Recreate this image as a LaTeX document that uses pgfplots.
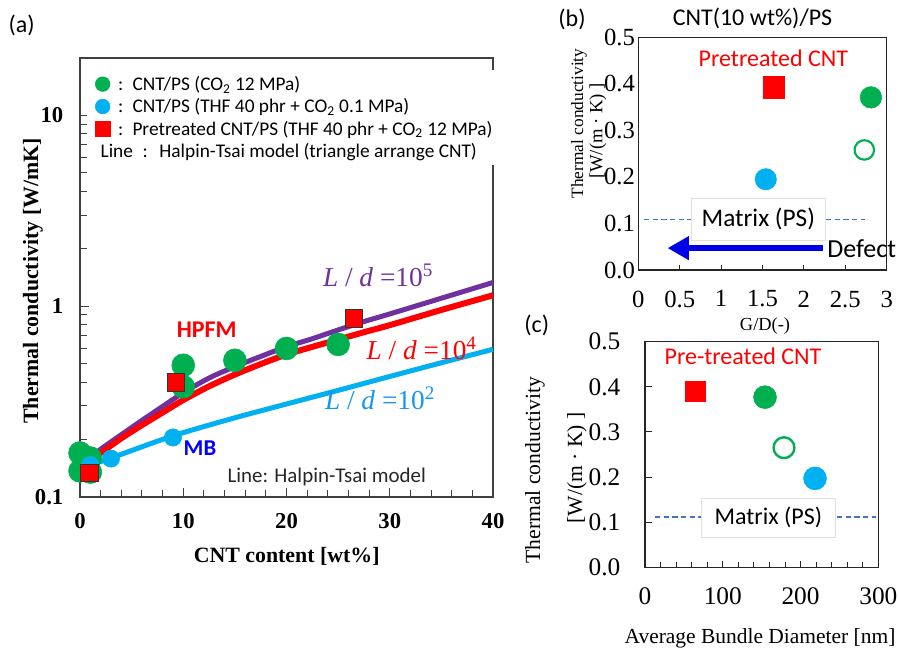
\documentclass[border=0pt]{standalone}
\usepackage{pgfplots}
\pgfplotsset{compat=1.18}
\usepackage{fontspec}
\setmainfont{Liberation Serif}
\setsansfont{Carlito}
\newfontfamily\tms{Liberation Serif}
\usetikzlibrary{arrows.meta}
\definecolor{cgreen}{HTML}{00B050}
\definecolor{cblue}{HTML}{00B0F0}
\definecolor{cpurple}{HTML}{7030A0}
\definecolor{cred}{HTML}{FF0000}
\definecolor{cmatrix}{HTML}{4472C4}
\definecolor{cldblue}{HTML}{1496F5}
\definecolor{carrow}{HTML}{0000E6}
\newcommand{\fs}[1]{\fontsize{#1}{#1}\selectfont}
\pgfplotsset{/pgf/number format/assume math mode=true}
\begin{document}
\begin{tikzpicture}[x=0.75pt,y=0.75pt]
\useasboundingbox (0,0) rectangle (898,647);

% ---------------- panel (a)
\begin{axis}[
  at={(60pt,112.5pt)}, anchor=south west,
  scale only axis, width=309.75pt, height=329.25pt,
  xmin=0, xmax=40, ymode=log, ymin=0.1, ymax=19.95,
  xtick={0,10,20,30,40},
  xticklabels={\textbf{0},\textbf{10},\textbf{20},\textbf{30},\textbf{40}},
  minor x tick num=4,
  ytick={0.1,1,10},
  yticklabels={\textbf{0.1},\textbf{1},\textbf{10}},
  xtick pos=bottom, ytick pos=left, tick align=inside,
  major tick length=7pt, minor tick length=5pt,
  tick label style={font=\tms\fs{17}},
  xticklabel style={yshift=-9pt},
  yticklabel style={xshift=-9pt},
  axis line style={black!75, line width=0.9pt},
  tick style={black!75, line width=0.7pt},
  clip=false,
  legend style={draw=none, fill=white, at={(0.017,0.9727)}, anchor=north west,
    font=\sffamily\fs{14.5}, inner xsep=3pt, inner ysep=2pt,
    nodes={inner ysep=2.35pt}},
  legend cell align=left,
]
\addplot[cpurple, line width=3.75pt, smooth, forget plot] coordinates {
(1,0.16) (2,0.178) (4,0.212) (6,0.252) (8,0.298) (10,0.352) (12.5,0.42) (15,0.482)
(17.5,0.545) (20,0.613) (22.5,0.675) (25,0.75) (27.5,0.83) (30,0.91) (35,1.1) (40,1.33)};
\addplot[cred, line width=4.5pt, smooth, forget plot] coordinates {
(1,0.155) (2,0.17) (4,0.203) (6,0.238) (8,0.277) (10,0.322) (12.5,0.38) (15,0.438)
(17.5,0.497) (20,0.558) (22.5,0.612) (25,0.668) (27.5,0.73) (30,0.795) (35,0.955) (40,1.14)};
\addplot[cblue, line width=3.75pt, smooth, forget plot] coordinates {
(1,0.147) (3,0.16) (9,0.209) (15,0.26) (20,0.307) (25,0.362) (30,0.428) (35,0.505) (40,0.594)};
\addplot[only marks, mark=*, mark size=8.6pt, cgreen, forget plot] coordinates {
(0,0.17) (0,0.137) (1,0.16) (1,0.135) (10,0.49) (10,0.378) (15,0.52) (20,0.60) (25,0.63)};
\addplot[only marks, mark=*, mark size=6.5pt, cblue, forget plot] coordinates {
(1,0.147) (3,0.159) (9,0.205)};
\addplot[only marks, mark=square*, mark size=6.5pt, mark options={fill=cred, draw=black!80, line width=0.6pt}, forget plot] coordinates {
(0.9,0.134) (9.3,0.398) (26.5,0.863)};
\addlegendimage{only marks, mark=*, mark size=5.5pt, cgreen}
\addlegendentry{\hspace{4pt}:\hspace{7pt}CNT/PS (CO\textsubscript{2} 12 MPa)}
\addlegendimage{only marks, mark=*, mark size=5.5pt, cblue}
\addlegendentry{\hspace{4pt}:\hspace{7pt}CNT/PS (THF 40 phr + CO\textsubscript{2} 0.1 MPa)}
\addlegendimage{only marks, mark=square*, mark size=5.5pt, cred}
\addlegendentry{\hspace{4pt}:\hspace{7pt}Pretreated CNT/PS (THF 40 phr + CO\textsubscript{2} 12 MPa)}
\addlegendimage{empty legend}
\addlegendentry{\hspace*{-9pt}Line\hspace{0.5em}:\hspace{0.6em}Halpin-Tsai model (triangle arrange CNT)}
\end{axis}

% ---------------- panel (b)
\begin{axis}[
  at={(478.7pt,282.75pt)}, anchor=south west,
  scale only axis, width=186.3pt, height=174.5pt,
  xmin=0, xmax=3, ymin=0, ymax=0.5,
  xtick={0,0.5,1,1.5,2,2.5,3},
  xticklabels={\textrm{0},\textrm{0.5},\textrm{1},\textrm{1.5},\textrm{2},\textrm{2.5},\textrm{3}},
  ytick={0,0.1,0.2,0.3,0.4,0.5},
  yticklabels={\textrm{0.0},\textrm{0.1},\textrm{0.2},\textrm{0.3},\textrm{0.4},\textrm{0.5}},
  xtick pos=bottom, ytick pos=left, tick align=inside,
  major tick length=4pt,
  ytick style={draw=none},
  tick label style={font=\tms\fs{18.5}},
  xticklabel style={yshift=-12pt},
  yticklabel style={xshift=1pt},
  axis line style={black!85, line width=1pt},
  tick style={black!85, line width=0.7pt},
  clip=false,
]
\addplot[cmatrix, dash pattern=on 4pt off 2.5pt, line width=1.1pt] coordinates {(0.07,0.109) (2.74,0.109)};
\node[fill=white, draw=black!12, font=\sffamily\fs{19}, minimum width=100pt, minimum height=31.5pt, inner sep=0pt] at (axis cs:1.45,0.109) {Matrix (PS)};
\draw[carrow, line width=5pt, -{Triangle[length=16pt,width=17pt]}] (axis cs:2.23,0.047) -- (axis cs:0.354,0.047);
\addplot[only marks, mark=square*, mark size=8pt, cred] coordinates {(1.64,0.393)};
\addplot[only marks, mark=*, mark size=8.1pt, cgreen] coordinates {(2.81,0.371)};
\addplot[only marks, mark=*, mark size=7.3pt, mark options={fill=white, draw=cgreen, line width=1.6pt}] coordinates {(2.73,0.258)};
\addplot[only marks, mark=*, mark size=8pt, cblue] coordinates {(1.54,0.195)};
\end{axis}

% ---------------- panel (c)
\begin{axis}[
  at={(483.75pt,59.8pt)}, anchor=south west,
  scale only axis, width=175pt, height=169.2pt,
  xmin=0, xmax=300, ymin=0, ymax=0.5,
  xtick={0,100,200,300}, minor x tick num=4,
  xticklabels={\textrm{0},\textrm{100},\textrm{200},\textrm{300}},
  ytick={0,0.1,0.2,0.3,0.4,0.5},
  yticklabels={\textrm{0.0},\textrm{0.1},\textrm{0.2},\textrm{0.3},\textrm{0.4},\textrm{0.5}},
  xtick pos=bottom, ytick pos=left, tick align=inside,
  major tick length=5pt, minor tick length=4pt,
  tick label style={font=\tms\fs{19}},
  xticklabel style={yshift=-12pt},
  yticklabel style={xshift=-15pt},
  axis line style={black!85, line width=1pt},
  tick style={black!85, line width=0.7pt},
  clip=false,
]
\addplot[cmatrix, dash pattern=on 4pt off 2.5pt, line width=1.1pt] coordinates {(12.9,0.111) (297.6,0.111)};
\node[fill=white, draw=black!12, font=\sffamily\fs{18}, minimum width=100pt, minimum height=28.8pt, inner sep=0pt] at (axis cs:158.6,0.110) {Matrix (PS)};
\addplot[only marks, mark=square*, mark size=7.5pt, cred] coordinates {(64.3,0.391)};
\addplot[only marks, mark=*, mark size=8.6pt, cgreen] coordinates {(154.3,0.377)};
\addplot[only marks, mark=*, mark size=7.8pt, mark options={fill=white, draw=cgreen, line width=1.8pt}] coordinates {(178.7,0.265)};
\addplot[only marks, mark=*, mark size=8.6pt, cblue] coordinates {(218.6,0.197)};
\end{axis}

% ---------------- annotations (a)
\node[font=\sffamily\fs{18}] at (21.7,622) {(a)};
\node[font=\tms\bfseries\fs{16.4}, rotate=90] at (33,366) {Thermal conductivity [W/mK]};
\node[font=\tms\bfseries\fs{16.4}] at (286.7,90.3) {CNT content [wt\%]};
\node[font=\sffamily\bfseries\fs{18}, cred] at (206.7,317) {HPFM};
\node[font=\sffamily\bfseries\fs{17}, blue] at (200,198.7) {MB};
\node[font=\sffamily\fs{15.7}, black!85] at (326.7,170.3) {Line: Halpin-Tsai model};
\node[font=\tms\fs{20.5}, cpurple] at (378,372) {\textit{L}~/~\textit{d}~=10\textsuperscript{5}};
\node[font=\tms\fs{20.5}, cred] at (421.7,298.7) {\textit{L}~/~\textit{d}~=10\textsuperscript{4}};
\node[font=\tms\fs{20.5}, cldblue] at (380,248.7) {\textit{L}~/~\textit{d}~=10\textsuperscript{2}};

% ---------------- annotations (b)
\node[font=\sffamily\fs{18}] at (572,628) {(b)};
\node[font=\sffamily\fs{18}] at (752.5,629) {CNT(10 wt\%)/PS};
\node[font=\sffamily\fs{18}, cred] at (773.3,588.7) {Pretreated CNT};
\node[font=\sffamily\fs{19.5}] at (861.7,398.7) {Defect};
\node[font=\tms\fs{13}, rotate=90] at (579,523.5) {Thermal conductivity};
\node[font=\tms\fs{14}, rotate=90] at (598,516) {[W/(m · K) ]};
\node[font=\tms\fs{13.8}] at (765,321) {G/D(-)};

% ---------------- annotations (c)
\node[font=\sffamily\fs{18}] at (536.7,322) {(c)};
\node[font=\sffamily\fs{18}, cred] at (743,290.3) {Pre-treated CNT};
\node[font=\tms\fs{16.2}, rotate=90] at (535,177) {Thermal conductivity};
\node[font=\tms\fs{16.2}, rotate=90] at (577,179) {[W/(m · K) ]};
\node[font=\tms\fs{16.1}, anchor=base] at (760,4) {Average Bundle Diameter [nm]};
\end{tikzpicture}
\end{document}
